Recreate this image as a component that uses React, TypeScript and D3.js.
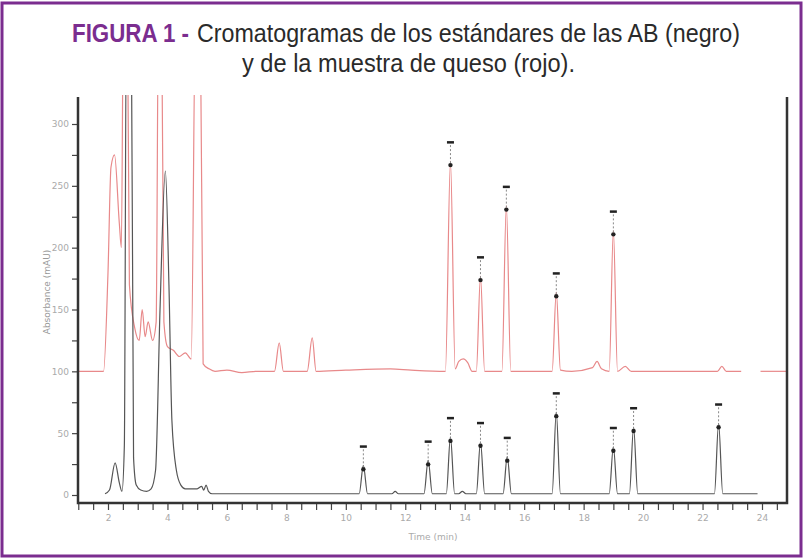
import React, { useRef, useEffect } from 'react';
import * as d3 from 'd3';

// tiempo (min), absorbancia (mAU)
const blackTrace: [number, number][] = [
  [1.9, 1], [2.05, 4], [2.24, 26], [2.38, 10], [2.47, 3], [2.55, 40], [2.62, 400], [2.78, 400],
  [2.86, 30], [2.95, 8], [3.1, 4], [3.3, 3], [3.45, 5], [3.6, 20], [3.75, 150], [3.93, 262],
  [4.05, 170], [4.15, 60], [4.3, 20], [4.45, 8], [4.6, 5], [4.8, 5], [5.0, 5], [5.15, 7],
  [5.22, 4], [5.3, 8], [5.38, 3], [5.5, 1], [7.0, 1], [10.45, 1], [10.59, 24], [10.73, 1],
  [11.55, 1], [11.66, 3], [11.77, 1], [12.63, 1], [12.77, 28], [12.91, 1], [13.38, 1],
  [13.52, 47], [13.66, 1], [13.8, 1], [13.92, 3], [14.04, 1], [14.39, 1], [14.53, 43],
  [14.67, 1], [15.29, 1], [15.43, 31], [15.57, 1], [16.94, 1], [17.08, 67], [17.22, 1],
  [18.86, 1], [19.0, 39], [19.14, 1], [19.54, 1], [19.68, 55], [19.82, 1], [22.4, 1],
  [22.54, 58], [22.68, 1], [23.85, 1],
];

const redTrace: [number, number][] = [
  [0.98, 100], [1.85, 100], [2.0, 180], [2.1, 265], [2.22, 275], [2.38, 220], [2.45, 200],
  [2.52, 400], [2.65, 400], [2.72, 170], [2.9, 135], [3.05, 125], [3.15, 150], [3.25, 128],
  [3.35, 140], [3.5, 125], [3.62, 140], [3.7, 400], [3.8, 400], [3.88, 140], [4.0, 120],
  [4.2, 117], [4.4, 112], [4.6, 115], [4.8, 110], [4.95, 400], [5.1, 400], [5.2, 106],
  [5.4, 102], [5.6, 100], [6.0, 101], [6.5, 99], [7.0, 100], [7.6, 100], [7.76, 123],
  [7.9, 100], [8.7, 100], [8.87, 127], [9.0, 100], [10.0, 101], [11.5, 102], [12.2, 101],
  [13.35, 100], [13.52, 270], [13.68, 102], [13.8, 108], [13.95, 110], [14.1, 107],
  [14.25, 100], [14.39, 100], [14.53, 177], [14.67, 100], [15.25, 100], [15.4, 234],
  [15.55, 100], [16.94, 100], [17.08, 164], [17.22, 101], [17.6, 100], [18.3, 103],
  [18.45, 108], [18.6, 102], [18.86, 100], [19.0, 214], [19.14, 100], [19.4, 104],
  [19.6, 100], [21.0, 100], [22.5, 100], [22.65, 104], [22.8, 100], [23.3, 100],
];

const redTail: [number, number][] = [[23.95, 100], [24.85, 100]];

// picos identificados (marcas sobre los picos)
const blackPeaks = [10.59, 12.77, 13.52, 14.53, 15.43, 17.08, 19.0, 19.68, 22.54];
const redPeaks = [13.52, 14.53, 15.4, 17.08, 19.0];

const xTickLabels = [2, 4, 6, 8, 10, 12, 14, 16, 18, 20, 22, 24];
const yTickLabels = [0, 50, 100, 150, 200, 250, 300];

const titleBold = 'FIGURA 1 -';
const titleLine1 = 'Cromatogramas de los estándares de las AB (negro)';
const titleLine2 = 'y de la muestra de queso (rojo).';
const xTitle = 'Time (min)';
const yTitle = 'Absorbance (mAU)';

const W = 803;
const H = 558;
const purple = '#7b2d8f';
const titleFont = 'Liberation Sans, Arial, sans-serif';

const App = () => {
  const ref = useRef<SVGSVGElement>(null);

  useEffect(() => {
    const svg = d3.select(ref.current);
    svg.selectAll('*').remove();

    const plot = { left: 78, right: 787, top: 97, bottom: 503 };
    const x = d3.scaleLinear().domain([2, 24]).range([108, 762]);
    const y = d3.scaleLinear().domain([0, 300]).range([495, 124]);

    // marco exterior
    svg.append('rect')
      .attr('x', 2).attr('y', 3).attr('width', W - 4).attr('height', H - 5)
      .attr('fill', '#fff').attr('stroke', purple).attr('stroke-width', 3);

    // título
    const title = (txt: string, x0: number, y0: number, len: number, color: string, bold = false) =>
      svg.append('text')
        .attr('x', x0).attr('y', y0)
        .attr('font-family', titleFont)
        .attr('font-size', 26)
        .attr('font-weight', bold ? 'bold' : 'normal')
        .attr('fill', color)
        .attr('textLength', len)
        .attr('lengthAdjust', 'spacingAndGlyphs')
        .text(txt);
    title(titleBold, 72, 42, 117, purple, true);
    title(titleLine1, 197, 42, 543, '#2a2a2a');
    title(titleLine2, 242, 72, 333, '#2a2a2a');

    svg.append('clipPath').attr('id', 'plotClip')
      .append('rect')
      .attr('x', plot.left).attr('y', plot.top - 2)
      .attr('width', plot.right - plot.left).attr('height', plot.bottom - plot.top);

    const line = d3.line<[number, number]>()
      .x(d => x(d[0]))
      .y(d => y(d[1]))
      .curve(d3.curveMonotoneX);

    const traces = svg.append('g').attr('clip-path', 'url(#plotClip)');

    traces.append('path').datum(redTrace)
      .attr('fill', 'none').attr('stroke', '#e8898a').attr('stroke-width', 1.2)
      .attr('d', line);
    traces.append('path').datum(redTail)
      .attr('fill', 'none').attr('stroke', '#e8898a').attr('stroke-width', 1.2)
      .attr('d', line);
    traces.append('path').datum(blackTrace)
      .attr('fill', 'none').attr('stroke', '#555').attr('stroke-width', 1.2)
      .attr('d', line);

    // marcas de identificación de picos
    const drawMarks = (peaks: number[], data: [number, number][]) => {
      peaks.forEach(t => {
        const p = data.find(d => d[0] === t);
        if (!p) return;
        const px = x(p[0]);
        const py = y(p[1]);
        const g = traces.append('g');
        g.append('circle').attr('cx', px).attr('cy', py + 4).attr('r', 2.2).attr('fill', '#222');
        g.append('line')
          .attr('x1', px).attr('x2', px).attr('y1', py + 2).attr('y2', py - 18)
          .attr('stroke', '#888').attr('stroke-width', 1).attr('stroke-dasharray', '2,2');
        g.append('rect')
          .attr('x', px - 3.5).attr('y', py - 20).attr('width', 7).attr('height', 2.5)
          .attr('fill', '#222');
      });
    };
    drawMarks(redPeaks, redTrace);
    drawMarks(blackPeaks, blackTrace);

    // ejes
    const xAxis = d3.axisBottom(x)
      .tickValues(d3.range(1, 25, 0.5))
      .tickSize(7)
      .tickFormat(d => (xTickLabels.includes(+d) ? String(d) : ''));
    const gx = svg.append('g').attr('transform', `translate(0, ${plot.bottom})`).call(xAxis);

    const yAxis = d3.axisLeft(y)
      .tickValues(d3.range(0, 325, 25))
      .tickSize(6)
      .tickFormat(d => (yTickLabels.includes(+d) ? String(d) : ''));
    const gy = svg.append('g').attr('transform', `translate(${plot.left}, 0)`).call(yAxis);

    [gx, gy].forEach(g => {
      g.select('.domain').remove();
      g.selectAll('.tick line').attr('stroke', '#444').attr('stroke-width', 1.2);
      g.selectAll('.tick text')
        .attr('fill', '#aaa')
        .attr('font-family', 'DejaVu Sans, sans-serif')
        .attr('font-size', 9);
    });
    gx.selectAll('.tick text').attr('dy', '0.9em');

    // marco del gráfico (izquierda, abajo, derecha)
    svg.append('path')
      .attr('d', `M${plot.left},${plot.top}V${plot.bottom}H${plot.right}V${plot.top}`)
      .attr('fill', 'none').attr('stroke', '#333').attr('stroke-width', 2.5);

    svg.append('text')
      .attr('x', 433).attr('y', 540)
      .attr('text-anchor', 'middle')
      .attr('font-family', 'DejaVu Sans, sans-serif')
      .attr('font-size', 9).attr('fill', '#aaa')
      .text(xTitle);

    svg.append('text')
      .attr('transform', 'translate(50, 292) rotate(-90)')
      .attr('text-anchor', 'middle')
      .attr('font-family', 'DejaVu Sans, sans-serif')
      .attr('font-size', 9).attr('fill', '#999')
      .text(yTitle);
  }, []);

  return (
    <svg
      ref={ref}
      width={W}
      height={H}
      style={{ position: 'absolute', left: 0, top: 0, display: 'block' }}
    />
  );
};

export default App;
